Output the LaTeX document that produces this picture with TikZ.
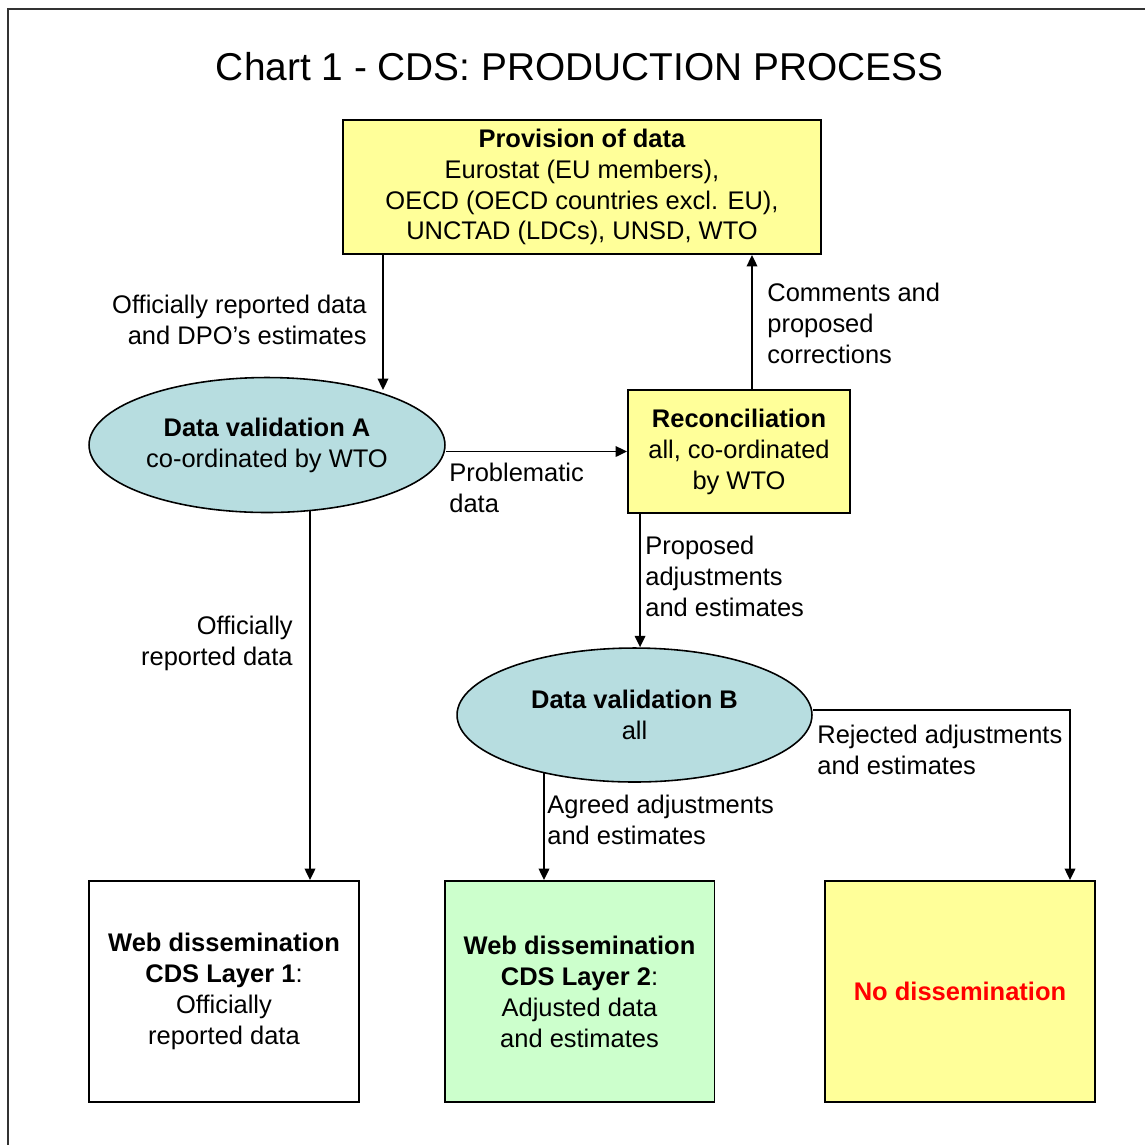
\documentclass[tikz,border=0pt]{standalone}
\usepackage{fontspec}
\setmainfont{Liberation Sans}
\usepackage{tikz}
\usetikzlibrary{arrows.meta, shapes.geometric, positioning}

\definecolor{boxyellow}{HTML}{FFFF99}
\definecolor{boxgreen}{HTML}{CCFFCC}
\definecolor{valblue}{HTML}{B7DDE0}
\definecolor{framegray}{HTML}{333333}

\begin{document}
\begin{tikzpicture}[x=0.02cm, y=-0.02cm,
    every node/.style={font=\fontsize{14.5}{17.6}\selectfont},
    databox/.style={draw, line width=1.1pt, align=center, inner sep=0pt},
    valellipse/.style={ellipse, draw, line width=0.9pt, fill=valblue, align=center, inner sep=0pt},
    lbl/.style={inner sep=0pt},
    arr/.style={-{Triangle[length=6.5pt, width=6pt]}, line width=1pt}]
            \useasboundingbox (0,0) rectangle (1145,1144);
            \draw[framegray, line width=1.3pt] (8,1150) -- (8,9) -- (1150,9);
            \node (title) at (579.5,67) {\fontsize{22.1}{27}\selectfont Chart 1 - CDS: PRODUCTION PROCESS};

            \node[databox, fill=boxyellow, minimum width=9.56cm, minimum height=2.68cm] (provision) at (582,187)
                {\textbf{Provision of data}\\Eurostat (EU members),\\OECD (OECD countries excl. EU),\\UNCTAD (LDCs), UNSD, WTO};
            \node[valellipse, minimum width=7.12cm, minimum height=2.7cm] (validA) at (267,445)
                {\textbf{Data validation A}\\co-ordinated by WTO};
            \node[databox, fill=boxyellow, minimum width=4.44cm, minimum height=2.46cm] (recon) at (739,451.5)
                {\textbf{Reconciliation}\\all, co-ordinated\\by WTO};
            \node[valellipse, minimum width=7.1cm, minimum height=2.68cm] (validB) at (634.5,715)
                {\textbf{Data validation B}\\all};
            \node[databox, fill=white, minimum width=5.4cm, minimum height=4.42cm] (webone) at (224,991.5)
                {\textbf{Web dissemination}\\\textbf{CDS Layer 1}:\\Officially\\reported data};
            \node[databox, fill=boxgreen, minimum width=5.4cm, minimum height=4.42cm] (webtwo) at (579.5,991.5)
                {\textbf{Web dissemination}\\\textbf{CDS Layer 2}:\\Adjusted data\\and estimates};
            \node[databox, fill=boxyellow, minimum width=5.4cm, minimum height=4.42cm] (nodiss) at (960,991.5)
                {\textcolor{red}{\textbf{No dissemination}}};

            \coordinate (aTop) at (383,390);
            \coordinate (aBot) at (310,510);
            \coordinate (bBot) at (544,773);
            \coordinate (bTurn) at (1070,710);

            \draw[arr] (provision.south -| aTop) -- (aTop);
            \draw[arr] (validA.east |- recon.west) -- (recon.west);
            \draw[arr] ([xshift=0.26cm]recon.north) -- ([xshift=0.26cm]recon.north |- provision.south);
            \draw[arr] ([xshift=0.26cm]recon.south west) -- ([xshift=0.26cm]recon.south west |- validB.north);
            \draw[arr] (aBot) -- (aBot |- webone.north);
            \draw[arr] (bBot) -- (bBot |- webtwo.north);
            \draw[arr] (validB.east |- bTurn) -- (bTurn) -- (bTurn |- nodiss.north);

            \node[lbl, anchor=east, align=right] (lblrep) at (367,319.5) {Officially reported data\\and DPO’s estimates};
            \node[lbl, anchor=west, align=left] (lblprob) at (449,488) {Problematic\\data};
            \node[lbl, anchor=west, align=left] (lblcomm) at (767,323) {Comments and\\proposed\\corrections};
            \node[lbl, anchor=west, align=left] (lblprop) at (645,576) {Proposed\\adjustments\\and estimates};
            \node[lbl, anchor=east, align=right] (lbloff) at (293,643) {Officially\\reported data};
            \node[lbl, anchor=west, align=left] (lblagr) at (547,820) {Agreed adjustments\\and estimates};
            \node[lbl, anchor=west, align=left] (lblrej) at (817,750) {Rejected adjustments\\and estimates};
        \end{tikzpicture}
\end{document}
